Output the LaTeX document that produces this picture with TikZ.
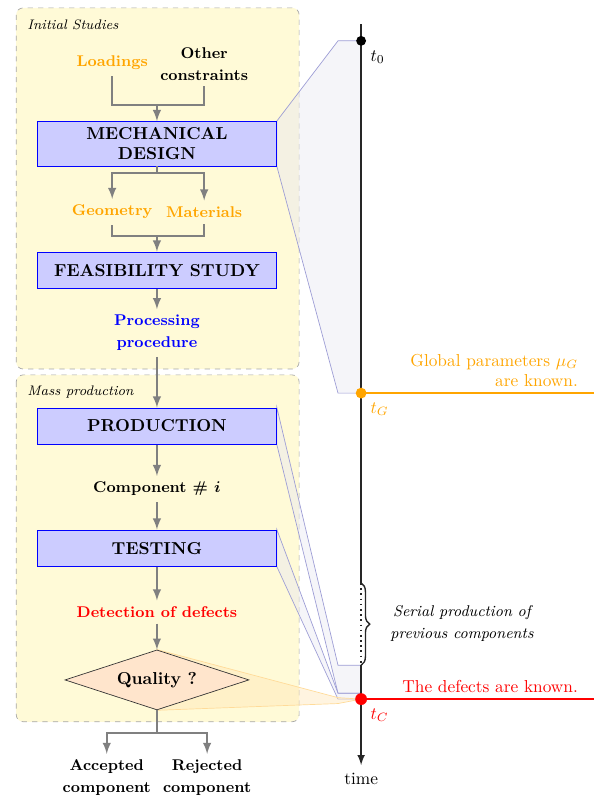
\documentclass[tikz,border=0pt]{standalone}
\usepackage{amsmath}
\usetikzlibrary{shapes.geometric,decorations.pathreplacing,calc,backgrounds}
\definecolor{phasebg}{RGB}{255,250,215}
\definecolor{gold}{RGB}{255,165,0}
\definecolor{projfill}{RGB}{232,232,242}

\begin{document}
\begin{tikzpicture}[
    stage/.style={draw=blue, fill=blue!20, minimum width=4.86cm, minimum height=0.74cm, align=center, font=\bfseries},
    flowtxt/.style={align=center, font=\linespread{1.15}\small\bfseries},
    flow/.style={gray, very thick},
    flowarr/.style={gray, very thick, -latex},
    quality/.style={diamond, aspect=3, inner sep=0pt, draw=black!80, fill=orange!20, minimum width=3.74cm, minimum height=1.22cm, font=\bfseries},
    phase/.style={draw=gray!70, dashed, fill=phasebg, rounded corners=4pt},
    phasetxt/.style={anchor=west, inner sep=0pt, font=\footnotesize\itshape},
    proj/.style={draw=blue!40!gray!55, fill=projfill, fill opacity=0.45},
    axis/.style={black!85, line width=1pt},
  ]
  \useasboundingbox (0,0) rectangle (12.07,-16.22);

  %% flow chart
  \node[flowtxt, text=gold] (load) at (2.28,-1.28) {Loadings};
  \node[flowtxt] (other) at (4.15,-1.30) {Other\\constraints};
  \node[stage] (mech) at (3.19,-2.92) {MECHANICAL\\DESIGN};
  \node[flowtxt, text=gold] (geom) at (2.28,-4.31) {Geometry};
  \node[flowtxt, text=gold] (mat) at (4.15,-4.31) {Materials};
  \node[stage] (feas) at (3.19,-5.49) {FEASIBILITY STUDY};
  \node[flowtxt, text=blue] (proc) at (3.19,-6.77) {Processing\\procedure};

  \node[stage] (prod) at (3.19,-8.66) {PRODUCTION};
  \node[flowtxt] (comp) at (3.19,-9.94) {Component $\boldsymbol{\#\ i}$};
  \node[stage] (test) at (3.19,-11.14) {TESTING};
  \node[flowtxt, text=red] (detect) at (3.19,-12.44) {Detection of defects};
  \node[quality] (qual) at (3.19,-13.82) {Quality ?};
  \node[flowtxt] (acc) at (2.17,-15.81) {Accepted\\component};
  \node[flowtxt] (rej) at (4.21,-15.81) {Rejected\\component};

  \coordinate (joinA) at (3.19,-2.13);
  \coordinate (splitA) at (3.19,-3.52);
  \coordinate (joinB) at (3.19,-4.80);
  \coordinate (splitB) at (3.19,-14.90);

  \draw[flow] (load) |- (joinA) -| (other);
  \draw[flowarr] (joinA) -- (mech);
  \draw[flow] (mech) -- (splitA);
  \draw[flowarr] (splitA) -| (geom);
  \draw[flowarr] (splitA) -| (mat);
  \draw[flow] (geom) |- (joinB) -| (mat);
  \draw[flowarr] (joinB) -- (feas);
  \draw[flowarr] (feas) -- (proc);
  \draw[flowarr] (proc) -- (prod);
  \draw[flowarr] (prod) -- (comp);
  \draw[flowarr] (comp) -- (test);
  \draw[flowarr] (test) -- (detect);
  \draw[flowarr] (detect) -- (qual);
  \draw[flow] (qual) -- (splitB);
  \draw[flowarr] (splitB) -| (acc);
  \draw[flowarr] (splitB) -| (rej);

  %% time line
  \coordinate (top) at (7.34,-0.49);
  \coordinate (t0) at (7.34,-0.83);
  \coordinate (tG) at (7.34,-7.99);
  \coordinate (sA) at (7.34,-11.85);
  \coordinate (sB) at (7.34,-13.52);
  \coordinate (tP) at (7.34,-14.09);
  \coordinate (tC) at (7.34,-14.21);
  \coordinate (bot) at (7.34,-15.55);
  \coordinate (tGend) at (12.07,-7.99);
  \coordinate (tCend) at (12.07,-14.21);

  \draw[axis] (top) -- (sA);
  \draw[axis, dotted] (sA) -- (sB);
  \draw[axis, -latex] (sB) -- (bot);
  \node[below=1pt] (timelbl) at (bot) {time};

  \draw[decorate, decoration={brace, amplitude=5pt}, black!85, thick] (sA) -- (sB);
  \node[align=center, font=\linespread{1.15}\small\itshape] (serlbl) at (9.39,-12.68) {Serial production of\\previous components};

  \fill[black] (t0) circle (0.1);
  \node[below right=2pt] (t0lbl) at (t0) {$t_0$};

  \draw[gold, very thick] (tG) -- (tGend);
  \fill[gold] (tG) circle (0.11);
  \node[below right=2pt, text=gold] (tGlbl) at (tG) {$t_G$};
  \node[above left, align=right, text=gold] (globlbl) at ($(tGend)+(-0.2,0)$) {Global parameters $\mu_G$\\are known.};

  \draw[red, very thick] (tC) -- (tCend);
  \fill[red] (tC) circle (0.12);
  \node[below right=2pt, text=red] (tClbl) at (tC) {$t_C$};
  \node[above left, text=red] (deflbl) at ($(tCend)+(-0.2,0)$) {The defects are known.};

  %% phases and projections
  \begin{scope}[on background layer]
    \draw[phase] (0.33,-0.16) rectangle (6.08,-7.50);
    \draw[phase] (0.33,-7.62) rectangle (6.08,-14.67);

    \draw[proj] (mech.north east) -- ($(t0)+(-0.47,0)$) -- (t0) -- (tG) -- ($(tG)+(-0.47,0)$) -- (mech.south east) -- cycle;
    \draw[proj] (prod.north east) -- ($(sB)+(-0.47,0)$) -- (sB) -- (tP) -- ($(tP)+(-0.47,0)$) -- (prod.south east) -- cycle;
    \draw[proj] (test.north east) -- ($(tP)+(-0.47,0)$) -- (tP) -- (tC) -- ($(tC)+(-0.47,0)$) -- (test.south east) -- cycle;
    \draw[draw=gold!40, fill=gold!30, fill opacity=0.4] (qual.north) -- ($(tC)+(-0.47,0.03)$) -- (tC) -- ($(tC)+(-0.47,-0.09)$) -- (qual.south) -- cycle;
  \end{scope}
  \node[phasetxt] (initlbl) at (0.55,-0.51) {Initial Studies};
  \node[phasetxt] (masslbl) at (0.55,-7.97) {Mass production};

\end{tikzpicture}
\end{document}
